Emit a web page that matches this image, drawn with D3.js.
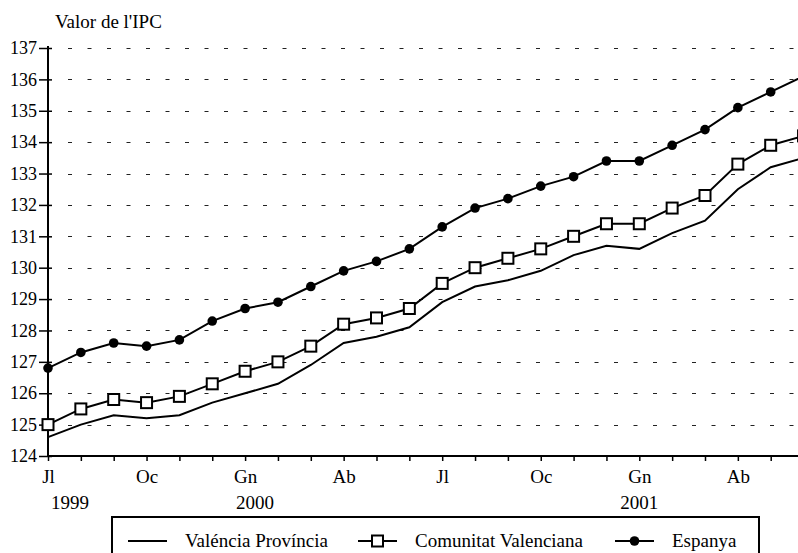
<!DOCTYPE html>
<html>
<head>
<meta charset="utf-8">
<script src="https://cdn.jsdelivr.net/npm/d3@7"></script>
<style>
  body { margin: 0; background: #fff; }
  svg { display: block; font-family: "Liberation Serif", "Times New Roman", serif; }
</style>
</head>
<body>
<svg class="chart"></svg>
<script>
    // monthly data, Jul 1999 - Jun 2001
    var months = ["Jl","Ag","St","Oc","Nv","Ds","Gn","Fb","Mç","Ab","Mg","Jn",
                  "Jl","Ag","St","Oc","Nv","Ds","Gn","Fb","Mç","Ab","Mg","Jn"];
    var monthLabels = ["Jl", "", "", "Oc", "", "", "Gn", "", "", "Ab", "", "",
                       "Jl", "", "", "Oc", "", "", "Gn", "", "", "Ab", "", ""];
    var years = ["1999", "2000", "2001"];
    var yearPos = [0.67, 6.3, 18];

    var dataValencia  = [124.6,125.0,125.3,125.2,125.3,125.7,126.0,126.3,126.9,127.6,127.8,128.1,
                         128.9,129.4,129.6,129.9,130.4,130.7,130.6,131.1,131.5,132.5,133.2,133.5];
    var dataComunitat = [125.0,125.5,125.8,125.7,125.9,126.3,126.7,127.0,127.5,128.2,128.4,128.7,
                         129.5,130.0,130.3,130.6,131.0,131.4,131.4,131.9,132.3,133.3,133.9,134.2];
    var dataEspanya   = [126.8,127.3,127.6,127.5,127.7,128.3,128.7,128.9,129.4,129.9,130.2,130.6,
                         131.3,131.9,132.2,132.6,132.9,133.4,133.4,133.9,134.4,135.1,135.6,136.1];

    var yTicks = [124,125,126,127,128,129,130,131,132,133,134,135,136,137];
    var seriesNames = ["Valéncia Província", "Comunitat Valenciana", "Espanya"];

    var width = 798;
    var height = 553;
    var plotLeft = 48;
    var plotTop = 48;
    var plotBottom = 456;
    var step = 32.85;

    var x = d3.scaleLinear()
        .domain([0, months.length - 1])
        .range([plotLeft, plotLeft + step * (months.length - 1)]);

    var y = d3.scaleLinear()
        .domain([124, 137])
        .range([plotBottom, plotTop]);

    var chart = d3.select(".chart")
        .attr("width", width)
        .attr("height", height);

    // grid
    chart.append("g")
        .selectAll("line")
        .data(yTicks.slice(1))
        .enter().append("line")
        .attr("x1", plotLeft + 20)
        .attr("x2", width)
        .attr("y1", function(d) { return Math.round(y(d)) + 0.5; })
        .attr("y2", function(d) { return Math.round(y(d)) + 0.5; })
        .attr("stroke", "#222")
        .attr("stroke-width", 1)
        .attr("stroke-dasharray", "4,15.5");

    // y axis
    var yAxis = chart.append("g")
        .attr("transform", "translate(" + plotLeft + ",0)")
        .call(d3.axisLeft(y).tickValues(yTicks).tickSize(9).tickPadding(2).tickFormat(d3.format("d")));
    yAxis.attr("font-family", null).attr("font-size", null);
    yAxis.select(".domain").remove();
    yAxis.selectAll(".tick line").attr("x2", -9).attr("x1", 4).attr("stroke-width", 1.5);
    yAxis.selectAll("text").style("font-size", "18px").attr("fill", "#000");
    chart.append("line")
        .attr("x1", plotLeft).attr("x2", plotLeft)
        .attr("y1", plotTop - 2).attr("y2", plotBottom + 1)
        .attr("stroke", "#000").attr("stroke-width", 2);

    // x axis
    var xAxis = chart.append("g")
        .attr("transform", "translate(0," + plotBottom + ")")
        .call(d3.axisBottom(x).tickValues(d3.range(months.length)).tickSize(5).tickPadding(9)
            .tickFormat(function(d) { return monthLabels[d]; }));
    xAxis.attr("font-family", null).attr("font-size", null);
    xAxis.select(".domain").remove();
    xAxis.selectAll(".tick line").attr("stroke-width", 1.5);
    xAxis.selectAll("text").style("font-size", "19px").attr("fill", "#000");
    chart.append("line")
        .attr("x1", plotLeft).attr("x2", width)
        .attr("y1", plotBottom).attr("y2", plotBottom)
        .attr("stroke", "#000").attr("stroke-width", 2);

    chart.append("g")
        .selectAll("text")
        .data(years)
        .enter().append("text")
        .attr("x", function(d, i) { return x(yearPos[i]); })
        .attr("y", 509)
        .attr("text-anchor", "middle")
        .style("font-size", "19px")
        .text(function(d) { return d; });

    chart.append("text")
        .attr("x", 55)
        .attr("y", 28)
        .style("font-size", "19px")
        .text("Valor de l'IPC");

    // lines
    var line = d3.line()
        .x(function(d, i) { return x(i); })
        .y(function(d) { return y(d); });

    [dataValencia, dataComunitat, dataEspanya].forEach(function(data) {
        chart.append("path")
            .datum(data)
            .attr("d", line)
            .attr("fill", "none")
            .attr("stroke", "#000")
            .attr("stroke-width", 2);
    });

    chart.append("g")
        .selectAll("rect")
        .data(dataComunitat)
        .enter().append("rect")
        .attr("x", function(d, i) { return x(i) - 5.5; })
        .attr("y", function(d) { return y(d) - 5.5; })
        .attr("width", 11)
        .attr("height", 11)
        .attr("fill", "#fff")
        .attr("stroke", "#000")
        .attr("stroke-width", 2);

    chart.append("g")
        .selectAll("circle")
        .data(dataEspanya)
        .enter().append("circle")
        .attr("cx", function(d, i) { return x(i); })
        .attr("cy", function(d) { return y(d); })
        .attr("r", 4.8)
        .attr("fill", "#000");

    // legend
    var legend = chart.append("g");
    legend.append("rect")
        .attr("x", 112).attr("y", 517)
        .attr("width", 647).attr("height", 60)
        .attr("fill", "#fff")
        .attr("stroke", "#000")
        .attr("stroke-width", 2);

    var legX = [128, 358, 615];
    var legY = 541;
    seriesNames.forEach(function(name, i) {
        legend.append("line")
            .attr("x1", legX[i]).attr("x2", legX[i] + 39)
            .attr("y1", legY).attr("y2", legY)
            .attr("stroke", "#000").attr("stroke-width", 2);
        if (i == 1) {
            legend.append("rect")
                .attr("x", legX[i] + 19.5 - 5.5).attr("y", legY - 5.5)
                .attr("width", 11).attr("height", 11)
                .attr("fill", "#fff").attr("stroke", "#000").attr("stroke-width", 2);
        }
        if (i == 2) {
            legend.append("circle")
                .attr("cx", legX[i] + 19.5).attr("cy", legY)
                .attr("r", 4.8).attr("fill", "#000");
        }
        legend.append("text")
            .attr("x", legX[i] + 57)
            .attr("y", legY + 6)
            .style("font-size", "19px")
            .text(name);
    });
</script>
</body>
</html>
